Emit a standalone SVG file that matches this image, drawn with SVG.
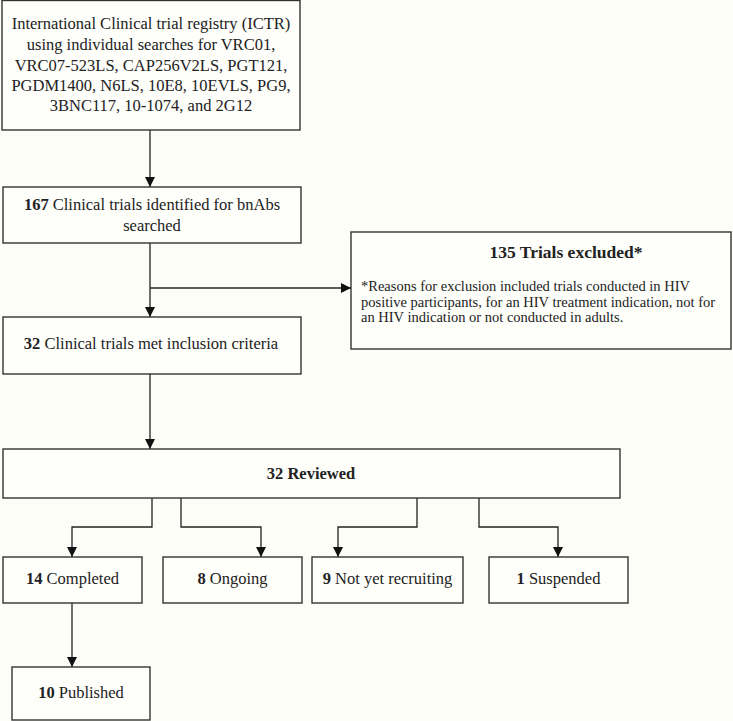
<svg xmlns="http://www.w3.org/2000/svg" width="733" height="721" viewBox="0 0 733 721">
<defs>
<style>
.box{fill:#fefefb;stroke:#333;stroke-width:1.4}
.t{font-family:"Liberation Serif","Times New Roman",serif;font-size:16.5px;fill:#222;text-anchor:middle}
.b{font-weight:bold}
.title{font-family:"Liberation Serif","Times New Roman",serif;font-size:17.5px;font-weight:bold;fill:#222;text-anchor:middle}
.body{font-family:"Liberation Serif","Times New Roman",serif;font-size:14.5px;fill:#222}
.c{fill:none;stroke:#222;stroke-width:1.3;marker-end:url(#arr)}
</style>
<marker id="arr" markerUnits="userSpaceOnUse" markerWidth="11" markerHeight="11" refX="10" refY="5" orient="auto">
<path d="M0,0 L10,5 L0,10 z" fill="#111"/>
</marker>
</defs>
<rect x="0" y="0" width="733" height="721" fill="#fdfdf8"/>
<g id="connectors">
<path class="c" d="M150,130 V187"/>
<path class="c" d="M150,243 V317"/>
<path class="c" d="M150,288 H351"/>
<path class="c" d="M150,374 V449"/>
<path class="c" d="M152,498 V527 H72 V557"/>
<path class="c" d="M181,498 V527 H261 V557"/>
<path class="c" d="M417,498 V527 H338 V557"/>
<path class="c" d="M479,498 V527 H558 V557"/>
<path class="c" d="M72,603 V667"/>
</g>
<g id="registry">
<rect class="box" x="2" y="0.5" width="298" height="129.5"/>
<text class="t" x="151" y="29">International Clinical trial registry (ICTR)</text>
<text class="t" x="151" y="50">using individual searches for VRC01,</text>
<text class="t" x="151" y="71">VRC07-523LS, CAP256V2LS, PGT121,</text>
<text class="t" x="151" y="91">PGDM1400, N6LS, 10E8, 10EVLS, PG9,</text>
<text class="t" x="151" y="111">3BNC117, 10-1074, and 2G12</text>
</g>
<g id="identified">
<rect class="box" x="3" y="187" width="298" height="56"/>
<text class="t" x="152" y="210"><tspan class="b">167</tspan> Clinical trials identified for bnAbs</text>
<text class="t" x="152" y="231">searched</text>
</g>
<g id="excluded">
<rect class="box" x="351" y="232" width="380" height="117"/>
<text class="title" x="566" y="258">135 Trials excluded*</text>
<text class="body" x="361" y="291">*Reasons for exclusion included trials conducted in HIV</text>
<text class="body" x="361" y="306.5">positive participants, for an HIV treatment indication, not for</text>
<text class="body" x="361" y="322">an HIV indication or not conducted in adults.</text>
</g>
<g id="inclusion">
<rect class="box" x="3" y="317" width="298" height="57"/>
<text class="t" x="151" y="349"><tspan class="b">32</tspan> Clinical trials met inclusion criteria</text>
</g>
<g id="reviewed">
<rect class="box" x="3" y="449" width="617" height="49"/>
<text class="t b" x="311" y="479">32 Reviewed</text>
</g>
<g id="completed">
<rect class="box" x="3" y="557" width="139" height="46"/>
<text class="t" x="72.5" y="584"><tspan class="b">14</tspan> Completed</text>
</g>
<g id="ongoing">
<rect class="box" x="163" y="557" width="139" height="46"/>
<text class="t" x="232.5" y="584"><tspan class="b">8</tspan> Ongoing</text>
</g>
<g id="notyet">
<rect class="box" x="312" y="557" width="151" height="46"/>
<text class="t" x="387.5" y="584"><tspan class="b">9</tspan> Not yet recruiting</text>
</g>
<g id="suspended">
<rect class="box" x="489" y="557" width="139" height="46"/>
<text class="t" x="558.5" y="584"><tspan class="b">1</tspan> Suspended</text>
</g>
<g id="published">
<rect class="box" x="12" y="667" width="138" height="53"/>
<text class="t" x="81" y="698"><tspan class="b">10</tspan> Published</text>
</g>
</svg>
